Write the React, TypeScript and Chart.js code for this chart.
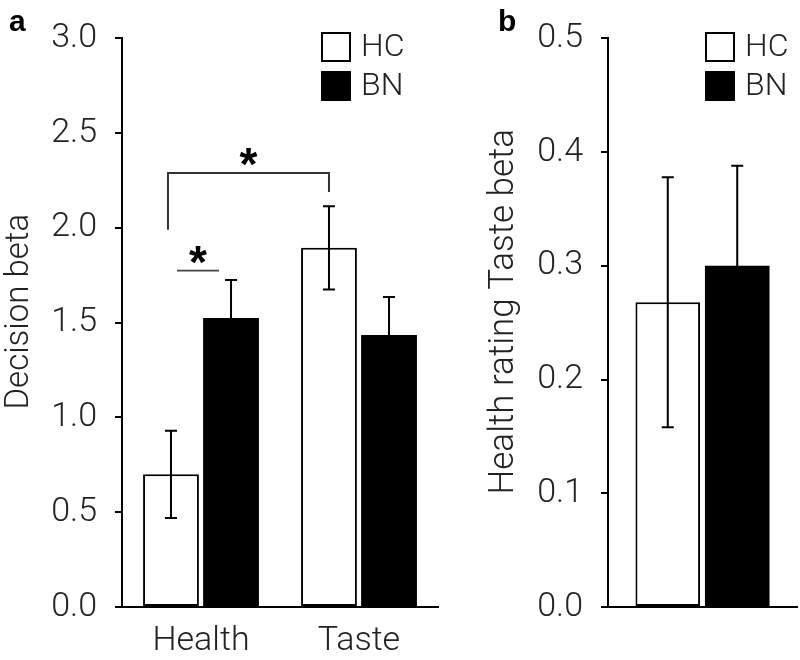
import React, { useEffect, useRef } from "react";
import { Chart, registerables } from "chart.js";

Chart.register(...registerables);

// ---------- data ----------
const groups = ["HC", "BN"];

const leftCategories = ["Health", "Taste"];
const leftHC = [0.7, 1.895];
const leftBN = [1.525, 1.435];
const leftHCErr = [0.23, 0.22];
const leftBNErr = [0.2, 0.2];
const leftYMin = 0;
const leftYMax = 3;
const leftYStep = 0.5;
const leftYTitle = "Decision beta";

const rightCategories = [""];
const rightHC = [0.268];
const rightBN = [0.3];
const rightHCErr = [0.11];
const rightBNErr = [0.088];
const rightYMin = 0;
const rightYMax = 0.5;
const rightYStep = 0.1;
const rightYTitle = "Health rating Taste beta";

// significance annotations (values in data units)
const bracketY = 2.29;
const bracketLegEnds = [1.99, 2.19];
const pairLineY = 1.775;
const sigLabel = "*";

const FONT = "Roboto, 'Liberation Sans', Arial, sans-serif";
const BOLDFONT = "'Liberation Sans', Arial, sans-serif";
const INK = "#000";
const TEXT = "#222";

// ---------- plugins ----------
const errorBarPlugin = {
  id: "errorBars",
  afterDatasetsDraw(chart: any) {
    const ctx = chart.ctx;
    const y = chart.scales.y;
    chart.data.datasets.forEach((ds: any, di: number) => {
      const meta = chart.getDatasetMeta(di);
      meta.data.forEach((bar: any, i: number) => {
        const v = ds.data[i];
        const e = ds.errors[i];
        const x = bar.x;
        const yt = y.getPixelForValue(v + e);
        const yb = y.getPixelForValue(v - e);
        ctx.save();
        ctx.strokeStyle = "#000";
        ctx.lineWidth = 2;
        ctx.beginPath();
        ctx.moveTo(x, yt);
        ctx.lineTo(x, yb);
        ctx.moveTo(x - 6, yt);
        ctx.lineTo(x + 6, yt);
        ctx.moveTo(x - 6, yb);
        ctx.lineTo(x + 6, yb);
        ctx.stroke();
        ctx.restore();
      });
    });
  },
};

const legendPlugin = {
  id: "boxLegend",
  afterDraw(chart: any, _args: any, opts: any) {
    const ctx = chart.ctx;
    const { x, y } = opts;
    ctx.save();
    groups.forEach((g, i) => {
      const by = y + i * 39;
      ctx.lineWidth = 2;
      ctx.strokeStyle = INK;
      ctx.fillStyle = i === 0 ? "#fff" : "#000";
      ctx.fillRect(x, by, 30, 30);
      ctx.strokeRect(x + 1, by + 1, 28, 28);
      ctx.fillStyle = TEXT;
      ctx.font = `300 32px ${FONT}`;
      ctx.textAlign = "left";
      ctx.textBaseline = "middle";
      ctx.fillText(g, x + 40, by + 16);
    });
    ctx.restore();
  },
};

const panelLabelPlugin = {
  id: "panelLabel",
  afterDraw(chart: any, _args: any, opts: any) {
    const ctx = chart.ctx;
    ctx.save();
    ctx.fillStyle = "#000";
    ctx.font = `bold 30px ${BOLDFONT}`;
    ctx.textAlign = "left";
    ctx.textBaseline = "alphabetic";
    ctx.fillText(opts.text, opts.x, opts.y);
    ctx.restore();
  },
};

const yTitlePlugin = {
  id: "yTitle",
  afterDraw(chart: any, _args: any, opts: any) {
    const ctx = chart.ctx;
    const a = chart.chartArea;
    ctx.save();
    ctx.translate(opts.x, (a.top + a.bottom) / 2 + opts.dy);
    ctx.rotate(-Math.PI / 2);
    ctx.fillStyle = TEXT;
    ctx.font = `300 ${opts.size}px ${FONT}`;
    ctx.textAlign = "center";
    ctx.textBaseline = "middle";
    ctx.fillText(opts.text, 0, 0);
    ctx.restore();
  },
};

function drawStar(ctx: any, x: number, cy: number) {
  ctx.save();
  ctx.fillStyle = "#000";
  ctx.font = `bold 46px ${BOLDFONT}`;
  ctx.textAlign = "center";
  ctx.textBaseline = "alphabetic";
  ctx.fillText(sigLabel, x, cy + 27);
  ctx.restore();
}

const sigPlugin = {
  id: "sig",
  afterDatasetsDraw(chart: any, _args: any, opts: any) {
    if (!opts || !opts.enabled) return;
    const ctx = chart.ctx;
    const y = chart.scales.y;
    const xs = chart.scales.x;
    const hcMeta = chart.getDatasetMeta(0);
    const x0 = hcMeta.data[0].x - 3;
    const x1 = hcMeta.data[1].x;
    const yb = y.getPixelForValue(bracketY);
    ctx.save();
    ctx.strokeStyle = "#333";
    ctx.lineWidth = 2;
    ctx.beginPath();
    ctx.moveTo(x0, y.getPixelForValue(bracketLegEnds[0]));
    ctx.lineTo(x0, yb);
    ctx.lineTo(x1, yb);
    ctx.lineTo(x1, y.getPixelForValue(bracketLegEnds[1]));
    ctx.stroke();
    drawStar(ctx, (x0 + x1) / 2, yb - 20);

    const cx = xs.getPixelForValue(0) - 3;
    const yp = y.getPixelForValue(pairLineY);
    ctx.strokeStyle = "#444";
    ctx.lineWidth = 1.6;
    ctx.beginPath();
    ctx.moveTo(cx - 21, yp);
    ctx.lineTo(cx + 21, yp);
    ctx.stroke();
    drawStar(ctx, cx, yp - 20);
    ctx.restore();
  },
};

// ---------- chart builder ----------
function makeConfig(p: any) {
  return {
    type: "bar",
    data: {
      labels: p.categories,
      datasets: [
        {
          label: groups[0],
          data: p.hc,
          errors: p.hcErr,
          backgroundColor: "#fff",
          borderColor: INK,
          borderWidth: 2,
          borderSkipped: false,
          categoryPercentage: p.catPct,
          barPercentage: 0.93,
        },
        {
          label: groups[1],
          data: p.bn,
          errors: p.bnErr,
          backgroundColor: "#000",
          borderColor: "#000",
          borderWidth: 0,
          categoryPercentage: p.catPct,
          barPercentage: 0.93,
        },
      ],
    },
    options: {
      responsive: false,
      animation: false,
      layout: { padding: { top: 32, right: p.padRight, bottom: 0, left: 0 } },
      plugins: {
        legend: { display: false },
        tooltip: { enabled: false },
        boxLegend: p.legend,
        panelLabel: p.panel,
        yTitle: p.title,
        sig: { enabled: p.sig },
      },
      scales: {
        x: {
          grid: { display: false, drawTicks: false },
          border: { display: true, color: INK, width: 2 },
          ticks: {
            display: p.showX,
            color: TEXT,
            font: { family: FONT, size: 34, weight: "300" },
            padding: 14,
          },
          afterFit: (s: any) => {
            s.height = 53;
          },
        },
        y: {
          min: p.yMin,
          max: p.yMax,
          grid: {
            display: true,
            drawOnChartArea: false,
            drawTicks: true,
            tickLength: 7,
            color: INK,
            lineWidth: 2,
          },
          border: { display: true, color: INK, width: 2 },
          ticks: {
            stepSize: p.yStep,
            color: TEXT,
            font: { family: FONT, size: 34, weight: "300" },
            padding: 18,
            callback: (v: any) => Number(v).toFixed(1),
          },
          title: { display: false },
          afterFit: (s: any) => {
            s.width = p.yWidth;
          },
        },
      },
    },
    plugins: [errorBarPlugin, legendPlugin, panelLabelPlugin, yTitlePlugin, sigPlugin],
  };
}

function BarPanel(props: any) {
  const ref = useRef<HTMLCanvasElement>(null);
  useEffect(() => {
    const chart = new Chart(ref.current as any, makeConfig(props.cfg) as any);
    return () => chart.destroy();
  }, []);
  return (
    <canvas
      ref={ref}
      width={props.width}
      height={660}
      style={{
        position: "absolute",
        left: props.left,
        top: 0,
        width: props.width,
        height: 660,
        display: "block",
      }}
    />
  );
}

export default function App() {
  const leftCfg = {
    categories: leftCategories,
    hc: leftHC,
    bn: leftBN,
    hcErr: leftHCErr,
    bnErr: leftBNErr,
    yMin: leftYMin,
    yMax: leftYMax,
    yStep: leftYStep,
    title: { text: leftYTitle, x: 20, dy: -11, size: 33 },
    yWidth: 122,
    padRight: 7,
    catPct: 0.76,
    showX: true,
    sig: true,
    legend: { x: 321, y: 32 },
    panel: { text: "a", x: 9, y: 31 },
  };
  const rightCfg = {
    categories: rightCategories,
    hc: rightHC,
    bn: rightBN,
    hcErr: rightHCErr,
    bnErr: rightBNErr,
    yMin: rightYMin,
    yMax: rightYMax,
    yStep: rightYStep,
    title: { text: rightYTitle, x: 59, dy: -11, size: 35 },
    yWidth: 163,
    padRight: 3,
    catPct: 0.735,
    showX: false,
    sig: false,
    legend: { x: 260, y: 32 },
    panel: { text: "b", x: 53, y: 31 },
  };
  return (
    <div
      style={{
        position: "absolute",
        left: 0,
        top: 0,
        width: 800,
        height: 660,
        background: "#fff",
      }}
    >
      <BarPanel cfg={leftCfg} left={0} width={445} />
      <BarPanel cfg={rightCfg} left={445} width={355} />
    </div>
  );
}
